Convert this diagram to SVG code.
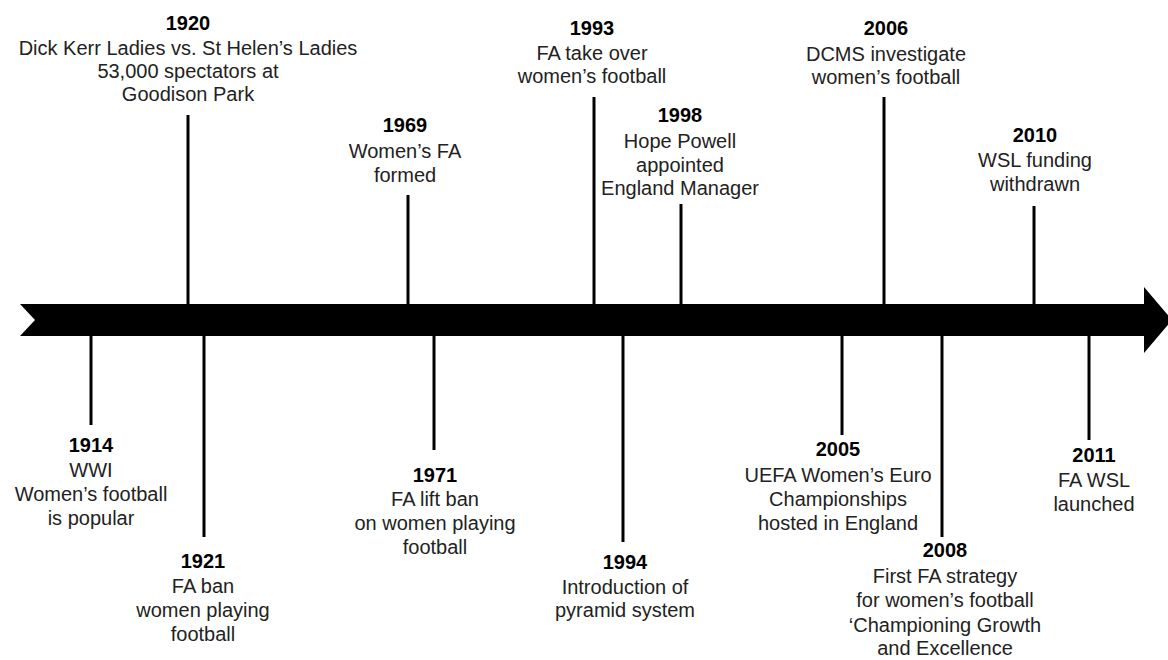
<svg xmlns="http://www.w3.org/2000/svg" width="1168" height="660" viewBox="0 0 1168 660">
<style>
text{font-family:"Liberation Sans",Arial,sans-serif;font-size:20px;text-anchor:middle;fill:#222}
.y{font-weight:bold;fill:#000}
.c line{stroke:#000;stroke-width:3}
</style>
<rect width="1168" height="660" fill="#fff"/>
<g id="timeline-arrow">
<polygon points="20,304 1144,304 1144,287 1172,320 1144,353 1144,336 20,336 35,320" fill="#000"/>
</g>
<g class="c" id="connectors">
<line x1="91" y1="336" x2="91" y2="425"/>
<line x1="188" y1="115" x2="188" y2="304"/>
<line x1="204" y1="336" x2="204" y2="537"/>
<line x1="408" y1="195" x2="408" y2="304"/>
<line x1="434" y1="336" x2="434" y2="450"/>
<line x1="594" y1="97" x2="594" y2="304"/>
<line x1="623" y1="336" x2="623" y2="542"/>
<line x1="681" y1="204" x2="681" y2="304"/>
<line x1="842" y1="336" x2="842" y2="435"/>
<line x1="884" y1="97" x2="884" y2="304"/>
<line x1="942" y1="336" x2="942" y2="537"/>
<line x1="1034" y1="206" x2="1034" y2="304"/>
<line x1="1089" y1="336" x2="1089" y2="440"/>
</g>
<g id="e1914"><text class="y" x="91" y="452">1914</text><text x="91" y="477">WWI</text><text x="91" y="501">Women’s football</text><text x="91" y="525">is popular</text></g>
<g id="e1920"><text class="y" x="188" y="30">1920</text><text x="188" y="55">Dick Kerr Ladies vs. St Helen’s Ladies</text><text x="188" y="78">53,000 spectators at</text><text x="188" y="101">Goodison Park</text></g>
<g id="e1921"><text class="y" x="203" y="568">1921</text><text x="203" y="593">FA ban</text><text x="203" y="617">women playing</text><text x="203" y="641">football</text></g>
<g id="e1969"><text class="y" x="405" y="132">1969</text><text x="405" y="158">Women’s FA</text><text x="405" y="182">formed</text></g>
<g id="e1971"><text class="y" x="435" y="482">1971</text><text x="435" y="506">FA lift ban</text><text x="435" y="530">on women playing</text><text x="435" y="554">football</text></g>
<g id="e1993"><text class="y" x="592" y="35">1993</text><text x="592" y="60">FA take over</text><text x="592" y="83">women’s football</text></g>
<g id="e1994"><text class="y" x="625" y="569">1994</text><text x="625" y="594">Introduction of</text><text x="625" y="617">pyramid system</text></g>
<g id="e1998"><text class="y" x="680" y="122">1998</text><text x="680" y="148">Hope Powell</text><text x="680" y="172">appointed</text><text x="680" y="195">England Manager</text></g>
<g id="e2005"><text class="y" x="838" y="456">2005</text><text x="838" y="482">UEFA Women’s Euro</text><text x="838" y="506">Championships</text><text x="838" y="530">hosted in England</text></g>
<g id="e2006"><text class="y" x="886" y="35">2006</text><text x="886" y="61">DCMS investigate</text><text x="886" y="84">women’s football</text></g>
<g id="e2008"><text class="y" x="945" y="557">2008</text><text x="945" y="583">First FA strategy</text><text x="945" y="607">for women’s football</text><text x="945" y="632">‘Championing Growth</text><text x="945" y="655">and Excellence</text></g>
<g id="e2010"><text class="y" x="1035" y="142">2010</text><text x="1035" y="167">WSL funding</text><text x="1035" y="191">withdrawn</text></g>
<g id="e2011"><text class="y" x="1094" y="462">2011</text><text x="1094" y="487">FA WSL</text><text x="1094" y="511">launched</text></g>
</svg>
